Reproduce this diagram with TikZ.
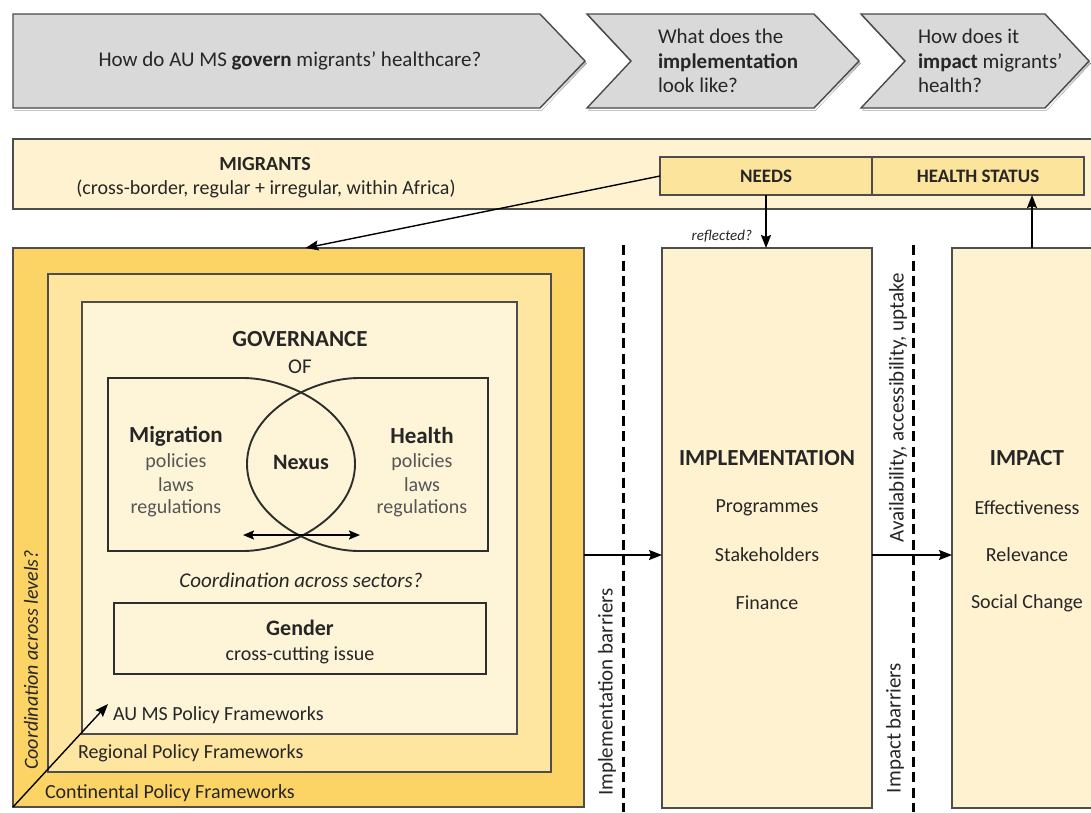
\documentclass[tikz,border=0pt]{standalone}
\usepackage{fontspec}
\setmainfont{Carlito}
\usetikzlibrary{arrows.meta}

\definecolor{chevfill}{HTML}{D9D9D9}
\definecolor{chevline}{HTML}{4A4A4A}
\definecolor{shade}{HTML}{8C8C8C}
\definecolor{cream}{HTML}{FEF2D0}
\definecolor{creamlt}{HTML}{FEF4D8}
\definecolor{needsfill}{HTML}{FDE49C}
\definecolor{gold}{HTML}{FCD466}
\definecolor{goldmid}{HTML}{FEE5A0}
\definecolor{edge}{HTML}{4D4D4D}
\definecolor{darkedge}{HTML}{2E2E2E}
\definecolor{subtext}{HTML}{555555}
\definecolor{ink}{HTML}{262626}

\begin{document}
\begin{tikzpicture}[x=1pt,y=-1pt,
  every node/.style={inner sep=0pt, outer sep=0pt, text=ink},
  panel/.style={draw=edge, line width=1.6pt, anchor=north west},
  chevron/.style={fill=chevfill, draw=chevline, line width=1.4pt, line join=miter},
  arr/.style={draw=black, line width=1.8pt, -{Stealth[length=13pt,width=10pt,inset=2pt]}},
  dblarr/.style={draw=black, line width=1.8pt, {Stealth[length=11pt,width=9pt,inset=2pt]}-{Stealth[length=11pt,width=9pt,inset=2pt]}},
  barrier/.style={draw=black, line width=3pt, dash pattern=on 10pt off 5.5pt},
  question/.style={font=\fontsize{21}{24.5}\selectfont, align=left},
  body/.style={font=\fontsize{20}{24}\selectfont},
  sub/.style={font=\fontsize{20}{24}\selectfont, text=subtext},
  head/.style={font=\bfseries\fontsize{23}{27}\selectfont},
  side/.style={font=\fontsize{21}{25}\selectfont, rotate=90},
  lens/.style={draw=darkedge, line width=1.9pt}
]
\useasboundingbox (0,0) rectangle (1091,812);
\clip (0,0) rectangle (1091,812);
\fill[white] (0,0) rectangle (1091,812);

% ---- guiding questions
\begin{scope}[shift={(1.5,2.5)}]
  \fill[shade] (13,14) -- (540,14) -- (585,61) -- (540,108) -- (13,108) -- cycle;
  \fill[shade] (587,14) -- (814,14) -- (859,61) -- (814,108) -- (587,108) -- (631,61) -- cycle;
  \fill[shade] (861,14) -- (1045,14) -- (1089,61) -- (1045,108) -- (861,108) -- (905,61) -- cycle;
\end{scope}
\draw[chevron] (13,14) -- (540,14) -- (585,61) -- (540,108) -- (13,108) -- cycle;
\draw[chevron] (587,14) -- (814,14) -- (859,61) -- (814,108) -- (587,108) -- (631,61) -- cycle;
\draw[chevron] (861,14) -- (1045,14) -- (1089,61) -- (1045,108) -- (861,108) -- (905,61) -- cycle;
\node[question] (q1) at (290,61) {How do AU MS \textbf{govern} migrants' healthcare?};
\node[question, anchor=west] (q2) at (658,61) {What does the\\\textbf{implementation}\\look like?};
\node[question, anchor=west] (q3) at (918,61) {How does it\\\textbf{impact} migrants'\\health?};

% ---- migrants bar
\fill[shade] (14.5,141.5) rectangle (1100,211.5);
\node[panel, fill=cream, minimum width=1100, minimum height=70] (mig) at (13,139) {};
\node[font=\bfseries\fontsize{20}{24}\selectfont] (migt) at (265,164) {MIGRANTS};
\node[body] (migs) at (266,189) {(cross-border, regular + irregular, within Africa)};
\node[panel, fill=needsfill, minimum width=212, minimum height=38, font=\bfseries\fontsize{19}{23}\selectfont] (needs) at (660,157) {NEEDS};
\node[panel, fill=needsfill, minimum width=212, minimum height=38, font=\bfseries\fontsize{19}{23}\selectfont] (hs) at (872,157) {HEALTH STATUS};

% ---- policy framework levels
\node[panel, fill=gold, minimum width=571, minimum height=559] (cont) at (13,248) {};
\node[panel, fill=goldmid, line width=1.1pt, minimum width=503, minimum height=498] (reg) at (48,274) {};
\node[panel, fill=creamlt, line width=1.1pt, minimum width=435, minimum height=432] (nat) at (82,302) {};

\node[head] (gov) at (300,339) {GOVERNANCE};
\node[font=\fontsize{21}{25}\selectfont] (of) at (300,367) {OF};

% two overlapping sector frames forming the nexus
\draw[lens] (108,378) -- (243,378) .. controls (290,378) and (355,412) .. (355,464)
  .. controls (355,516) and (290,551) .. (243,551) -- (108,551) -- cycle;
\draw[lens] (488,378) -- (359,378) .. controls (312,378) and (247,412) .. (247,464)
  .. controls (247,516) and (312,551) .. (359,551) -- (488,551) -- cycle;
\coordinate (xl) at (243,535);
\coordinate (xr) at (360,535);
\draw[dblarr] (xl) -- (xr);

\node[head] (migr) at (176,436) {Migration};
\node[sub] (mp) at (176,462) {policies};
\node[sub] (ml) at (176,485) {laws};
\node[sub] (mr) at (176,508) {regulations};
\node[head] (hlth) at (422,436) {Health};
\node[sub] (hp) at (422,462) {policies};
\node[sub] (hl) at (422,485) {laws};
\node[sub] (hr) at (422,508) {regulations};
\node[font=\bfseries\fontsize{22}{26}\selectfont] (nexus) at (301,462) {Nexus};

\node[font=\itshape\fontsize{21}{25}\selectfont] (coord) at (301,580) {Coordination across sectors?};
\node[panel, draw=darkedge, line width=1.8pt, minimum width=372, minimum height=71] (gender) at (114,603) {};
\node[font=\bfseries\fontsize{22}{26}\selectfont] (gt) at (300,628) {Gender};
\node[body] (gs) at (300,655) {cross-cutting issue};

\node[body, anchor=west] (aums) at (113,715) {AU MS Policy Frameworks};
\node[body, anchor=west] (regl) at (78,753) {Regional Policy Frameworks};
\node[body, anchor=west] (contl) at (45,793) {Continental Policy Frameworks};
\coordinate (levtip) at (108,704);
\draw[arr, line width=1.4pt] (cont.south west) -- (levtip);
\node[font=\itshape\fontsize{20}{24}\selectfont, rotate=90] (levels) at (31,660) {Coordination across levels?};

% ---- implementation and impact
\node[panel, fill=cream, minimum width=210, minimum height=560] (impl) at (662,248) {};
\node[panel, fill=cream, minimum width=160, minimum height=560] (impact) at (952,248) {};

\node[head] (implt) at (767,458) {IMPLEMENTATION};
\node[body] (prog) at (767,508) {Programmes};
\node[body] (stak) at (767,555) {Stakeholders};
\node[body] (fin) at (767,603) {Finance};
\node[head] (impt) at (1027,458) {IMPACT};
\node[body] (eff) at (1027,508) {Effectiveness};
\node[body] (rel) at (1027,555) {Relevance};
\node[body] (soc) at (1027,603) {Social Change};

% barriers
\coordinate (b1t) at (623,245);
\coordinate (b1b) at (623,812);
\coordinate (b2t) at (913,245);
\coordinate (b2b) at (913,812);
\draw[barrier] (b1t) -- (b1b);
\draw[barrier] (b2t) -- (b2b);
\node[side] (ib) at (607,692) {Implementation barriers};
\node[side] (aau) at (898,408) {Availability, accessibility, uptake};
\node[side] (pb) at (895,728) {Impact barriers};

% ---- connectors
\draw[arr, line width=1.4pt] (needs.west) -- ([xshift=7pt]cont.north);
\draw[arr] (needs.south) -- (needs.south |- impl.north);
\node[font=\itshape\fontsize{15}{18}\selectfont, anchor=east] (refl) at (752,236) {reflected?};
\draw[arr] (impact.north) -- (impact.north |- hs.south);
\draw[arr] (cont.east |- 0,555) -- (impl.west |- 0,555);
\draw[arr] (impl.east |- 0,555) -- (impact.west |- 0,555);
\end{tikzpicture}
\end{document}
